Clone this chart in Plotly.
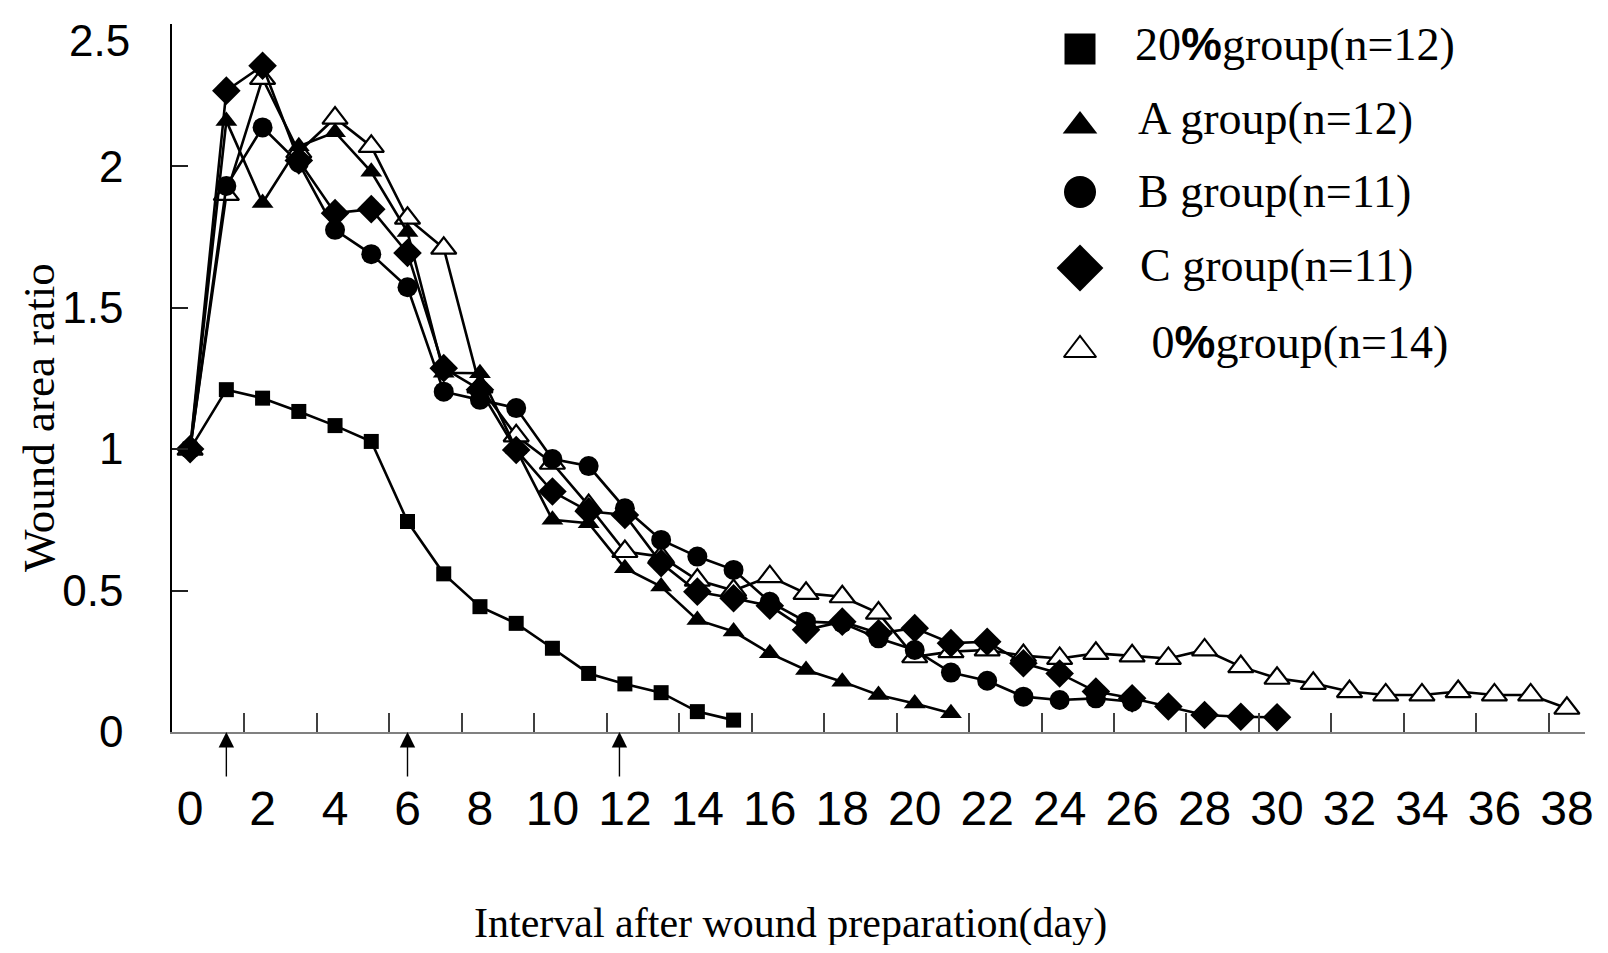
import plotly.graph_objects as go

# ---------------- data ----------------
days_20 = list(range(0, 16))
ratio_20 = [1.0, 1.21, 1.18, 1.133, 1.083, 1.027, 0.744, 0.559, 0.443, 0.384,
            0.296, 0.207, 0.170, 0.139, 0.072, 0.042]

days_A = list(range(0, 22))
ratio_A = [1.0, 2.16, 1.87, 2.07, 2.12, 1.98, 1.767, 1.27, 1.268, 1.0,
           0.75, 0.738, 0.579, 0.514, 0.396, 0.355, 0.278, 0.219, 0.178, 0.131,
           0.101, 0.066]

days_B = list(range(0, 27))
ratio_B = [1.0, 1.93, 2.137, 2.011, 1.775, 1.689, 1.572, 1.203, 1.174, 1.145,
           0.965, 0.94, 0.791, 0.679, 0.62, 0.573, 0.46, 0.39, 0.385, 0.331,
           0.29, 0.21, 0.181, 0.125, 0.113, 0.119, 0.107]

days_C = list(range(0, 31))
ratio_C = [1.0, 2.267, 2.355, 2.02, 1.834, 1.848, 1.693, 1.286, 1.21, 0.997,
           0.85, 0.78, 0.767, 0.597, 0.496, 0.473, 0.446, 0.361, 0.39, 0.349,
           0.367, 0.314, 0.319, 0.243, 0.207, 0.143, 0.119, 0.09, 0.06, 0.054,
           0.052]

days_0 = list(range(0, 39))
ratio_0 = [1.0, 1.90, 2.31, 2.05, 2.17, 2.07, 1.816, 1.71, 1.22, 1.047,
           0.95, 0.80, 0.638, 0.62, 0.537, 0.50, 0.549, 0.49, 0.478, 0.42,
           0.266, 0.284, 0.29, 0.27, 0.26, 0.278, 0.269, 0.26, 0.29, 0.231,
           0.19, 0.172, 0.143, 0.131, 0.131, 0.143, 0.131, 0.131, 0.084]

x_tick_vals = list(range(0, 39, 2))
x_tick_text = [str(v) for v in x_tick_vals]
y_tick_vals = [0, 0.5, 1, 1.5, 2, 2.5]
y_tick_text = ["0", "0.5", "1", "1.5", "2", ""]   # top label drawn separately
y_top_label = "2.5"
arrow_days = [1, 6, 11.85]

PCT = "<span style=\"font-family:'Liberation Sans',Arial;font-weight:bold\">%</span>"
legend_labels = [
    "20" + PCT + "group(n=12)",
    "A group(n=12)",
    "B group(n=11)",
    "C group(n=11)",
    " 0" + PCT + "group(n=14)",
]

# ---------------- geometry ----------------
# page body has an 8px margin, so the figure is sized to fit inside the window
PAGE = 8
W, H = 1608 - 2 * PAGE, 953 - 2 * PAGE
# target screen-pixel plot box
SX0, SX1, SY_TOP, SY_BOT = 172, 1585, 25, 732
Y_MAX = 2.5025  # tiny headroom so the 2.5 tick is kept
EXTRA = round((Y_MAX - 2.5) * (SY_BOT - SY_TOP) / 2.5)
L = SX0 - PAGE
T = SY_TOP - PAGE - EXTRA
R = W - (SX1 - PAGE)
B = H - (SY_BOT - PAGE)
SY_PLOT_TOP = SY_TOP - EXTRA


def px_to_paper_x(sx):
    return (sx - SX0) / (SX1 - SX0)


def px_to_paper_y(sy):
    return (SY_BOT - sy) / (SY_BOT - SY_PLOT_TOP)


SERIF = "'Liberation Serif', 'Times New Roman', serif"
SANS = "'Liberation Sans', Arial, sans-serif"
LW = 2.6

series = [
    (days_0, ratio_0, "triangle-up", 22, "white", 2.2),
    (days_20, ratio_20, "square", 15, "black", 0),
    (days_A, ratio_A, "triangle-up", 19, "black", 0),
    (days_B, ratio_B, "circle", 20, "black", 0),
    (days_C, ratio_C, "diamond", 22, "black", 0),
]

fig = go.Figure()
for d, v, sym, sz, fill, mlw in series:
    fig.add_trace(go.Scatter(
        x=d, y=v, mode="lines+markers",
        line=dict(color="black", width=LW),
        marker=dict(symbol=sym, size=sz, color=fill, opacity=1,
                    line=dict(color="black", width=mlw)),
        showlegend=False, cliponaxis=False, hoverinfo="skip",
    ))

# ---------------- hand-made legend (screen-pixel overlay axes) ----------------
leg_symbols = ["square", "triangle-up", "circle", "diamond", "triangle-up"]
leg_sizes = [31, 30, 32, 36, 28]
leg_fill = ["black", "black", "black", "black", "white"]
leg_lw = [0, 0, 0, 0, 2]
leg_mx = [1080] * 5
leg_my = [49, 126, 192, 268, 350]
leg_tx = [1133, 1136, 1136, 1138, 1138]
leg_ty = [44, 118, 191, 265, 342]

for sym, sz, fill, lw, mx, my in zip(leg_symbols, leg_sizes, leg_fill, leg_lw, leg_mx, leg_my):
    fig.add_trace(go.Scatter(
        x=[mx], y=[my], xaxis="x2", yaxis="y2", mode="markers",
        marker=dict(symbol=sym, size=sz, color=fill, opacity=1,
                    line=dict(color="black", width=lw)),
        showlegend=False, cliponaxis=False, hoverinfo="skip",
    ))

annotations = []
for tx, ty, lab in zip(leg_tx, leg_ty, legend_labels):
    annotations.append(dict(x=tx, y=ty, xref="x2", yref="y2", text=lab,
                            showarrow=False, xanchor="left", yanchor="middle",
                            font=dict(family=SERIF, size=46, color="black")))

for d in arrow_days:
    annotations.append(dict(x=d, y=0, xref="x", yref="y", text="",
                            showarrow=True, ax=0, ay=46, arrowhead=2,
                            arrowsize=2.2, arrowwidth=1.4, arrowcolor="black",
                            standoff=0))

# top y tick label, sitting slightly below its tick as in the reference
annotations.append(dict(x=px_to_paper_x(131), y=px_to_paper_y(40),
                        xref="paper", yref="paper", text=y_top_label,
                        showarrow=False, xanchor="right", yanchor="middle",
                        borderpad=0,
                        font=dict(family=SANS, size=44, color="black")))

annotations.append(dict(x=px_to_paper_x(39), y=px_to_paper_y(418),
                        xref="paper", yref="paper",
                        text="Wound area ratio", textangle=-90,
                        showarrow=False, xanchor="center", yanchor="middle",
                        font=dict(family=SERIF, size=45, color="black")))
annotations.append(dict(x=px_to_paper_x(790), y=px_to_paper_y(923),
                        xref="paper", yref="paper",
                        text="Interval after wound preparation(day)",
                        showarrow=False, xanchor="center", yanchor="middle",
                        font=dict(family=SERIF, size=42, color="black")))

fig.update_layout(
    width=W, height=H,
    margin=dict(l=L, r=R, t=T, b=B, autoexpand=False),
    plot_bgcolor="white", paper_bgcolor="white",
    showlegend=False,
    xaxis=dict(
        range=[-0.5, 38.5], tickmode="array", tickvals=x_tick_vals,
        ticktext=x_tick_text, ticks="", showgrid=False, zeroline=False,
        showline=True, linecolor="#808080", linewidth=2,
        tickfont=dict(family=SANS, size=48, color="black"),
        ticklabelstandoff=33, automargin=False, ticklabeloverflow="allow",
        minor=dict(tickmode="array", tickvals=[v + 1.5 for v in x_tick_vals[:-1]],
                   ticks="inside", ticklen=19, tickwidth=1.5,
                   tickcolor="#404040", showgrid=False),
    ),
    yaxis=dict(
        range=[0, Y_MAX], tickmode="array", tickvals=y_tick_vals,
        ticktext=y_tick_text, ticks="inside", ticklen=16, tickwidth=1.5,
        tickcolor="#202020", showgrid=False, zeroline=False,
        showline=True, linecolor="black", linewidth=1.5,
        tickfont=dict(family=SANS, size=44, color="black"),
        ticklabelstandoff=38, automargin=False, ticklabeloverflow="allow",
    ),
    xaxis2=dict(range=[SX0, SX1], overlaying="x", visible=False, fixedrange=True),
    yaxis2=dict(range=[SY_BOT, SY_PLOT_TOP], overlaying="y", visible=False,
                fixedrange=True),
    annotations=annotations,
)

fig.write_html("out.html")
